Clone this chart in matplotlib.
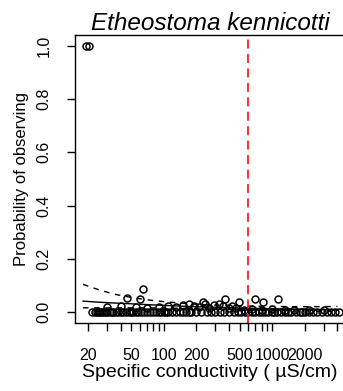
import matplotlib
matplotlib.use("Agg")
import matplotlib.pyplot as plt
import numpy as np

plt.rcParams['font.family'] = ['Liberation Sans', 'DejaVu Sans']

# Observations
x_zero = [22, 23, 24, 25, 26, 27, 28, 29, 30, 32, 33, 34, 36, 38, 40, 42, 45, 48, 50, 52,
          55, 58, 62, 66, 70, 75, 80, 85, 90, 95, 100, 105, 110, 120, 130, 140, 150, 160,
          170, 180, 200, 220, 250, 270, 300, 330, 360, 400, 440, 480, 520, 560, 600, 650,
          700, 750, 800, 860, 920, 1000, 1050, 1100, 1200, 1300, 1400, 1500, 1650, 1800,
          1900, 2000, 2200, 2400, 2600, 2900, 3200, 3500, 3800, 4100]
x_low = [30, 40, 55, 70, 90, 110, 130, 150, 170, 190, 210, 240, 260, 290, 320, 350, 400,
         430, 460, 550, 650, 800, 1000, 1300, 1600, 2200, 3000]
y_low = [0.020, 0.025, 0.020, 0.015, 0.020, 0.025, 0.020, 0.028, 0.030, 0.025, 0.020, 0.030,
         0.015, 0.028, 0.030, 0.022, 0.018, 0.025, 0.015, 0.010, 0.012, 0.010, 0.012, 0.010,
         0.008, 0.010, 0.008]
x_mid = [46, 60, 64, 232, 369, 494, 698, 828, 1140]
y_mid = [0.052, 0.049, 0.086, 0.037, 0.049, 0.037, 0.049, 0.037, 0.049]
x_one = [19, 20.5]
y_one = [1.0, 1.0]

# Fitted curve and confidence bounds
x_fit = [18, 25, 35, 50, 70, 100, 150, 200, 300, 500, 700, 1000, 2000, 4000]
y_fit = [0.042, 0.038, 0.035, 0.032, 0.029, 0.026, 0.023, 0.021, 0.019, 0.016, 0.015, 0.013, 0.011, 0.009]
y_upper = [0.105, 0.085, 0.068, 0.056, 0.047, 0.040, 0.034, 0.030, 0.027, 0.024, 0.023, 0.022, 0.021, 0.022]
y_lower = [0.017, 0.017, 0.017, 0.017, 0.017, 0.016, 0.015, 0.014, 0.012, 0.010, 0.009, 0.007, 0.005, 0.003]

threshold = 600

x_ticks = [20, 30, 40, 50, 60, 70, 80, 90, 100, 200, 300, 400, 500, 600, 700, 800, 900,
           1000, 2000, 3000, 4000]
x_labels_shown = [20, 50, 100, 200, 500, 1000, 2000]
y_ticks = [0.0, 0.2, 0.4, 0.6, 0.8, 1.0]

W, H = 343, 391
fig = plt.figure(figsize=(W / 100, H / 100), dpi=100)
ax = fig.add_axes([75 / W, 1 - 323 / H, (345 - 75) / W, (323 - 35) / H])

mk = dict(marker='o', mfc='none', mec='black', ms=5, mew=1.1, ls='none')
ax.plot(x_zero, [0] * len(x_zero), **mk)
ax.plot(x_low, y_low, **mk)
ax.plot(x_mid, y_mid, **mk)
ax.plot(x_one, y_one, **mk)

ax.plot(x_fit, y_fit, color='black', lw=1)
ax.plot(x_fit, y_upper, color='black', lw=1, ls=(0, (4, 4)))
ax.plot(x_fit, y_lower, color='black', lw=1, ls=(0, (4, 4)))

ax.axvline(threshold, color='#ff2020', lw=1.3, ls=(0, (5, 3)))

ax.set_xscale('log')
ax.set_xlim(15.17, 4700)
ax.set_ylim(-0.04, 1.04)

ax.xaxis.set_minor_locator(matplotlib.ticker.NullLocator())
ax.set_xticks(x_ticks)
ax.set_xticklabels([str(v) if v in x_labels_shown else '' for v in x_ticks])
ax.set_yticks(y_ticks)
ax.set_yticklabels([f"{v:.1f}" for v in y_ticks], rotation=90, va='center')

ax.tick_params(direction='out', length=6, width=1)
ax.tick_params(axis='x', labelsize=11.5, pad=12)
ax.tick_params(axis='y', labelsize=11.5, pad=11)
for s in ax.spines.values():
    s.set_linewidth(1)
ax.spines['right'].set_visible(False)

ax.set_xlabel('Specific conductivity ( µS/cm)', fontsize=14, labelpad=1)
ax.set_ylabel('Probability of observing', fontsize=12, labelpad=5)
ax.set_title('Etheostoma kennicotti', fontsize=17.5, style='italic', pad=1)

fig.savefig('out.png', dpi=100)
